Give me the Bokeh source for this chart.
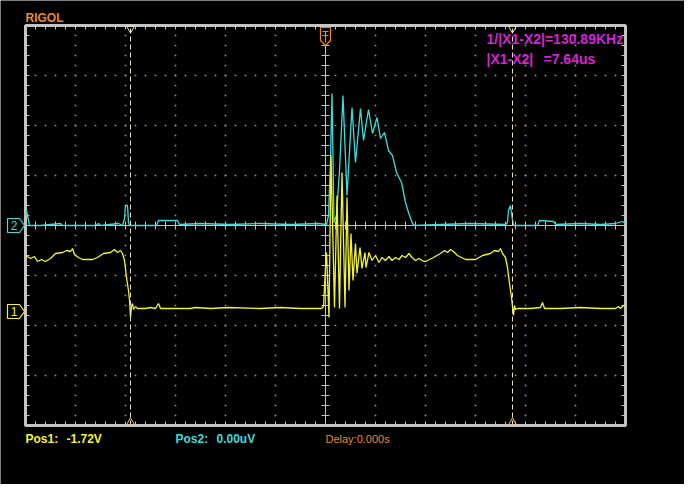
import numpy as np
from bokeh.plotting import figure
from bokeh.models import Range1d, Label
from bokeh.embed import file_html
from bokeh.resources import INLINE

# ---------------- data (time in microseconds, 1 us/div, trigger at t=0) ----------------
# CH1 (yellow), volts, 1 V/div, position offset -1.72 V
ch1_t = [-6.00, -5.90, -5.82, -5.76, -5.68, -5.60, -5.50, -5.40, -5.26, -5.18,
         -5.10, -5.06, -5.02, -4.94, -4.86, -4.66, -4.56, -4.44, -4.30, -4.22,
         -4.16, -4.10, -4.06, -4.02, -3.98, -3.94, -3.92, -3.90, -3.88, -3.86,
         -3.84, -3.80, -3.76, -3.60, -3.50, -3.40, -3.34, -3.30, -2.70, -2.60,
         -2.30, -1.94, -1.30, -0.90, -0.50, -0.08, -0.04, -0.02, 0.00, 0.02,
         0.07, 0.11, 0.18, 0.23, 0.28, 0.33, 0.39, 0.43, 0.47, 0.51,
         0.55, 0.60, 0.63, 0.69, 0.73, 0.79, 0.81, 0.87, 0.93, 1.00,
         1.07, 1.13, 1.20, 1.27, 1.33, 1.40, 1.47, 1.53, 1.60, 1.67,
         1.73, 1.80, 1.87, 1.93, 2.00, 2.16, 2.30, 2.38, 2.44, 2.50,
         2.56, 2.64, 2.80, 3.00, 3.14, 3.30, 3.38, 3.46, 3.50, 3.54,
         3.60, 3.64, 3.68, 3.72, 3.76, 3.78, 3.80, 3.84, 4.10, 4.30,
         4.34, 4.38, 4.70, 5.10, 5.50, 5.80, 5.86, 5.90, 5.96, 6.00]
ch1_v = [1.12, 1.06, 1.10, 1.00, 1.04, 1.00, 1.06, 1.16, 1.18, 1.22,
         1.20, 1.26, 1.14, 1.08, 1.04, 1.04, 1.08, 1.16, 1.18, 1.24,
         1.18, 1.22, 1.16, 1.02, 0.68, 0.42, 0.22, -0.12, 0.10, 0.16,
         0.04, 0.10, 0.06, 0.06, 0.08, 0.06, 0.16, 0.06, 0.06, 0.08,
         0.06, 0.08, 0.06, 0.08, 0.06, 0.06, 0.10, 0.48, 0.88, 1.18,
         -0.12, 3.12, 0.08, 2.32, 0.06, 2.78, 0.08, 2.28, 0.42, 1.56,
         0.62, 1.36, 0.76, 1.28, 0.86, 1.18, 0.88, 1.18, 1.02, 1.12,
         0.98, 1.08, 1.02, 1.10, 1.02, 1.08, 1.04, 1.12, 1.08, 1.16,
         1.08, 1.02, 1.06, 1.02, 1.00, 1.08, 1.16, 1.22, 1.18, 1.24,
         1.20, 1.12, 1.04, 1.04, 1.12, 1.16, 1.22, 1.20, 1.26, 1.16,
         1.08, 0.88, 0.56, 0.28, -0.08, 0.12, 0.04, 0.06, 0.06, 0.08,
         0.18, 0.06, 0.06, 0.08, 0.06, 0.06, 0.10, 0.06, 0.12, 0.12]

# CH2 (cyan), in screen divisions, position 0
ch2_t = [-6.00, -5.98, -5.92, -5.70, -5.30, -5.26, -4.60, -4.54, -4.50, -4.14,
         -4.06, -4.02, -4.00, -3.96, -3.94, -3.92, -3.38, -3.34, -2.96, -2.92,
         -2.50, -1.90, -1.30, -0.70, -0.14, 0.02, 0.06, 0.10, 0.13, 0.17,
         0.22, 0.28, 0.35, 0.43, 0.53, 0.60, 0.70, 0.76, 0.86, 0.94,
         1.03, 1.10, 1.18, 1.26, 1.34, 1.42, 1.52, 1.60, 1.66, 1.74,
         1.78, 2.30, 2.90, 3.60, 3.64, 3.66, 3.70, 3.74, 3.76, 4.24,
         4.28, 4.56, 4.60, 5.10, 5.50, 5.80, 5.94, 6.00]
ch2_div = [0.20, 0.30, 0.00, 0.00, 0.04, 0.00, 0.00, 0.04, 0.00, 0.04,
           0.00, 0.14, 0.40, 0.40, 0.06, 0.00, 0.00, 0.10, 0.10, 0.02,
           0.04, 0.02, 0.04, 0.02, 0.04, 0.02, 0.20, 1.30, 2.64, 0.06,
           0.20, 1.10, 2.60, 0.60, 2.36, 1.26, 2.34, 1.70, 2.32, 1.84,
           2.16, 1.74, 1.86, 1.50, 1.40, 1.06, 0.86, 0.46, 0.26, 0.04,
           0.00, 0.02, 0.04, 0.02, 0.06, 0.30, 0.40, 0.10, 0.00, 0.00,
           0.10, 0.08, 0.02, 0.04, 0.02, 0.04, 0.08, 0.04]

CH1_POS = -1.72      # V
CH1_VDIV = 1.0       # V/div
CH2_POS = 0.0        # div
CURSOR_X1 = -3.90    # us
CURSOR_X2 = 3.74     # us
DELAY = 0.0

# ---------------- colours ----------------
BG = "#000000"
FRAME = "#c4c4c4"
GRIDDOT = "#9a9a9a"
YEL = "#f4f42c"
CYA = "#3cdcdc"
MAG = "#d424d4"
ORG = "#e88a2c"
CURS = "#ecdcc0"

PX = 1.0 / 50.0  # one screen pixel in divisions

p = figure(width=684, height=484, x_range=Range1d(-6.5, 7.18), y_range=Range1d(-5.18, 4.5),
           output_backend="svg", toolbar_location=None, min_border=0,
           x_axis_location=None, y_axis_location=None,
           background_fill_color=BG, border_fill_color=BG, outline_line_color=None)
p.grid.visible = False

# ---------------- graticule ----------------
minor_x = np.round(np.arange(-6, 6.001, 0.2), 2)
minor_y = np.round(np.arange(-4, 4.001, 0.2), 2)
dx, dy = [], []
for gx in range(-5, 6):
    if gx == 0:
        continue
    dx += [gx] * len(minor_y)
    dy += list(minor_y)
for gy in range(-3, 4):
    if gy == 0:
        continue
    dx += list(minor_x)
    dy += [gy] * len(minor_x)
p.scatter(dx, dy, marker="square", size=1.6, fill_color=GRIDDOT, line_color=None)

# centre cross with ticks
p.segment(x0=[0, -6], y0=[-4, 0], x1=[0, 6], y1=[4, 0], line_color=FRAME, line_width=1)
p.segment(x0=-4 * PX, y0=minor_y, x1=4 * PX, y1=minor_y, line_color=FRAME, line_width=1)
p.segment(x0=minor_x, y0=-4 * PX, x1=minor_x, y1=4 * PX, line_color=FRAME, line_width=1)

# edge ticks
L = 4 * PX
p.segment(x0=minor_x, y0=4, x1=minor_x, y1=4 - L, line_color=FRAME, line_width=1)
p.segment(x0=minor_x, y0=-4, x1=minor_x, y1=-4 + L, line_color=FRAME, line_width=1)
p.segment(x0=-6, y0=minor_y, x1=-6 + L, y1=minor_y, line_color=FRAME, line_width=1)
p.segment(x0=6, y0=minor_y, x1=6 - L, y1=minor_y, line_color=FRAME, line_width=1)

# frame
p.quad(left=-6, right=6, bottom=-4, top=4, fill_color=None, line_color=FRAME, line_width=3)

# ---------------- traces ----------------
ch2_y = [v + CH2_POS for v in ch2_div]
ch1_y = [(v / CH1_VDIV) + CH1_POS for v in ch1_v]
p.line(ch2_t, ch2_y, line_color=CYA, line_width=1.3)
p.line(ch1_t, ch1_y, line_color=YEL, line_width=1.3)

# ---------------- cursors ----------------
p.segment(x0=[CURSOR_X1, CURSOR_X2], y0=-4, x1=[CURSOR_X1, CURSOR_X2], y1=4,
          line_color=CURS, line_width=1, line_dash="5 3")
p.scatter([CURSOR_X1, CURSOR_X2], [4 - 3 * PX] * 2, marker="inverted_triangle", size=8,
          fill_color=None, line_color=CURS, line_width=1)
p.scatter([CURSOR_X1, CURSOR_X2], [-4 + 3 * PX] * 2, marker="triangle", size=8,
          fill_color=None, line_color="#e8c090", line_width=1)

# trigger position marker (top, orange)
tx = DELAY
p.patch([tx - 5 * PX, tx + 5 * PX, tx + 5 * PX, tx, tx - 5 * PX],
        [4 - 2 * PX, 4 - 2 * PX, 4 - 15 * PX, 4 - 20 * PX, 4 - 15 * PX],
        fill_color=BG, line_color=ORG, line_width=1.2)
p.segment(x0=[tx - 3 * PX, tx - 3 * PX, tx], y0=[4 - 6 * PX, 4 - 10 * PX, 4 - 6 * PX],
          x1=[tx + 3 * PX, tx + 3 * PX, tx], y1=[4 - 6 * PX, 4 - 10 * PX, 4 - 17 * PX],
          line_color=ORG, line_width=1.2)

# channel markers on the left
def ch_marker(yc, color, txt):
    xs = [-6.36, -6.12, -6.02, -6.12, -6.36]
    ys = [yc + 7 * PX, yc + 7 * PX, yc, yc - 7 * PX, yc - 7 * PX]
    p.patch(xs, ys, fill_color=BG, line_color=color, line_width=1.2)
    p.add_layout(Label(x=-6.23, y=yc, text=txt, text_color=color, text_font="Liberation Sans",
                       text_font_size="12px", text_align="center", text_baseline="middle"))

ch_marker(CH2_POS, CYA, "2")
ch_marker(CH1_POS, YEL, "1")

# ---------------- texts ----------------
def lab(x, y, txt, color, size, bold=True, font="Liberation Sans"):
    p.add_layout(Label(x=x, y=y, text=txt, text_color=color, text_font=font,
                       text_font_size=size, text_font_style="bold" if bold else "normal",
                       text_align="left", text_baseline="middle"))

dt = CURSOR_X2 - CURSOR_X1
lab(-6.0, 4.16, "RIGOL", ORG, "12px")
lab(3.22, 3.74, f"1/|X1-X2|={1000.0 / dt:.2f}KHz", MAG, "14px")
lab(3.22, 3.34, "|X1-X2|", MAG, "14px")
lab(4.36, 3.34, f"={dt:.2f}us", MAG, "14px")
lab(-6.0, -4.26, "Pos1:", YEL, "12px")
lab(-5.18, -4.26, f"{CH1_POS:.2f}V", YEL, "12px")
lab(-3.0, -4.26, "Pos2:", CYA, "12px")
lab(-2.18, -4.26, f"{CH2_POS:.2f}uV", CYA, "12px")
lab(0.0, -4.26, f"Delay:{DELAY:.3f}s", ORG, "11px", bold=False)

open("out.html", "w").write(file_html(p, INLINE))
